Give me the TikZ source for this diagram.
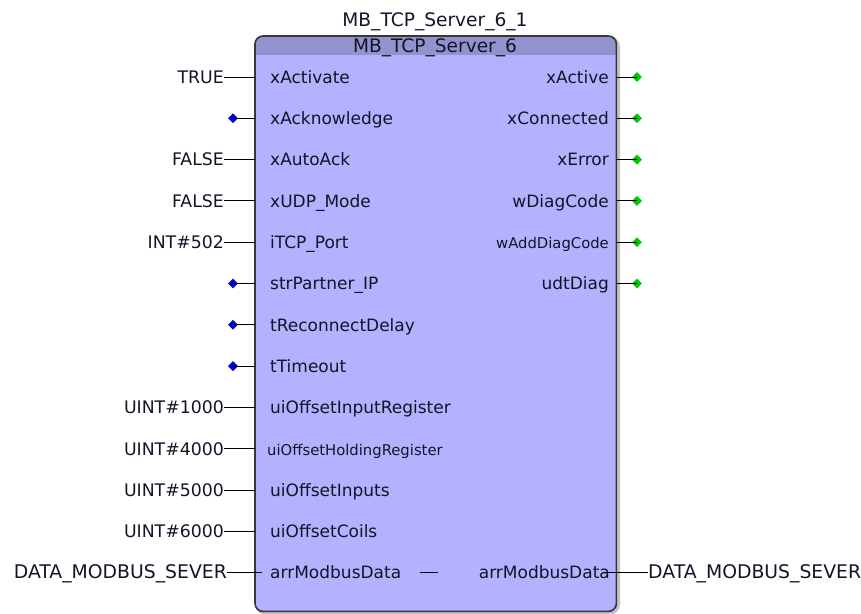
\documentclass[tikz,border=0pt]{standalone}
\usepackage{fontspec}
\setmainfont{DejaVu Sans}
\usetikzlibrary{shapes.geometric}
\definecolor{bodyc}{RGB}{178,178,255}
\definecolor{headc}{RGB}{146,146,206}
\definecolor{txtc}{RGB}{20,20,40}
\definecolor{bordc}{RGB}{55,55,55}
\definecolor{shadc}{RGB}{195,195,195}
\definecolor{dotb}{RGB}{0,0,210}
\definecolor{dotg}{RGB}{0,200,0}
\begin{document}
\begin{tikzpicture}[x=1pt,y=-1pt,
  base/.style={inner sep=0pt, text height=12.6pt, text depth=0pt, text=txtc},
  val/.style={base, anchor=east, font=\fontsize{17.3}{19}\selectfont},
  inl/.style={base, anchor=west, font=\fontsize{17}{19}\selectfont},
  outl/.style={base, anchor=east, font=\fontsize{17}{19}\selectfont},
  cond/.style={font=\fontsize{14.8}{17}\selectfont},
  bigv/.style={font=\fontsize{18.8}{21}\selectfont},
  pinl/.style={draw=black, line width=1pt},
  bdot/.style={diamond, fill=dotb, inner sep=0pt, minimum width=10pt, minimum height=10pt},
  gdot/.style={diamond, fill=dotg, inner sep=0pt, minimum width=10pt, minimum height=10pt},
  titl/.style={base, anchor=center, font=\fontsize{18.6}{21}\selectfont}]
\useasboundingbox (0,0) rectangle (861,613);
% block shadow and body
\draw[shadc, line width=4pt, rounded corners=9pt] (257,38) rectangle (618,613);
\node[fill=bodyc, rounded corners=8pt, minimum width=361pt, minimum height=575pt,
  inner sep=0pt, anchor=north west] (fb) at (255,36) {};
\begin{scope}
  \clip[rounded corners=8pt] (255,36) rectangle (616,611);
  \fill[headc] (255,36) rectangle (616,55);
\end{scope}
\draw[bordc, line width=1.6pt, rounded corners=8pt] (fb.north west) rectangle (fb.south east);
% titles
\node[titl] (inst) at (435,20) {MB\_TCP\_Server\_6\_1};
\node[titl] (type) at (435,46) {MB\_TCP\_Server\_6};
% left inputs
\node[val] (v1) at (224,77) {TRUE};
\node[inl] (i1) at (270,77) {xActivate};
\draw[pinl] (v1.east) -- (v1.east -| fb.west);
\node[bdot] (d2) at (233,118.3) {};
\node[inl] (i2) at (270,118.3) {xAcknowledge};
\draw[pinl] (d2.center) -- (d2.center -| fb.west);
\node[val] (v3) at (224,159.6) {FALSE};
\node[inl] (i3) at (270,159.6) {xAutoAck};
\draw[pinl] (v3.east) -- (v3.east -| fb.west);
\node[val] (v4) at (224,200.9) {FALSE};
\node[inl] (i4) at (270,200.9) {xUDP\_Mode};
\draw[pinl] (v4.east) -- (v4.east -| fb.west);
\node[val] (v5) at (224,242.2) {INT\#502};
\node[inl] (i5) at (270,242.2) {iTCP\_Port};
\draw[pinl] (v5.east) -- (v5.east -| fb.west);
\node[bdot] (d6) at (233,283.5) {};
\node[inl] (i6) at (270,283.5) {strPartner\_IP};
\draw[pinl] (d6.center) -- (d6.center -| fb.west);
\node[bdot] (d7) at (233,324.8) {};
\node[inl] (i7) at (270,324.8) {tReconnectDelay};
\draw[pinl] (d7.center) -- (d7.center -| fb.west);
\node[bdot] (d8) at (233,366.1) {};
\node[inl] (i8) at (270,366.1) {tTimeout};
\draw[pinl] (d8.center) -- (d8.center -| fb.west);
\node[val] (v9) at (224,407.4) {UINT\#1000};
\node[inl] (i9) at (270,407.4) {uiOffsetInputRegister};
\draw[pinl] (v9.east) -- (v9.east -| fb.west);
\node[val] (v10) at (224,448.7) {UINT\#4000};
\node[inl, cond] (i10) at (267,448.7) {uiOffsetHoldingRegister};
\draw[pinl] (v10.east) -- (v10.east -| fb.west);
\node[val] (v11) at (224,490) {UINT\#5000};
\node[inl] (i11) at (270,490) {uiOffsetInputs};
\draw[pinl] (v11.east) -- (v11.east -| fb.west);
\node[val] (v12) at (224,531.3) {UINT\#6000};
\node[inl] (i12) at (270,531.3) {uiOffsetCoils};
\draw[pinl] (v12.east) -- (v12.east -| fb.west);
\node[val, bigv] (v13) at (227,572.6) {DATA\_MODBUS\_SEVER};
\node[inl] (i13) at (270,572.6) {arrModbusData};
\coordinate (c13) at (262,572.6);
\draw[pinl] (v13.east) -- (c13);
% right outputs
\node[outl] (o1) at (609,77) {xActive};
\node[gdot] (g1) at (637,77) {};
\draw[pinl] (g1.center -| fb.east) -- (g1.center);
\node[outl] (o2) at (609,118.3) {xConnected};
\node[gdot] (g2) at (637,118.3) {};
\draw[pinl] (g2.center -| fb.east) -- (g2.center);
\node[outl] (o3) at (609,159.6) {xError};
\node[gdot] (g3) at (637,159.6) {};
\draw[pinl] (g3.center -| fb.east) -- (g3.center);
\node[outl] (o4) at (609,200.9) {wDiagCode};
\node[gdot] (g4) at (637,200.9) {};
\draw[pinl] (g4.center -| fb.east) -- (g4.center);
\node[outl, cond] (o5) at (609,242.2) {wAddDiagCode};
\node[gdot] (g5) at (637,242.2) {};
\draw[pinl] (g5.center -| fb.east) -- (g5.center);
\node[outl] (o6) at (609,283.5) {udtDiag};
\node[gdot] (g6) at (637,283.5) {};
\draw[pinl] (g6.center -| fb.east) -- (g6.center);
% in-out pin
\node[outl] (o13) at (610,572.6) {arrModbusData};
\node[val, bigv, anchor=west] (w13) at (648,572.6) {DATA\_MODBUS\_SEVER};
\coordinate (r13) at (603,572.6);
\draw[pinl] (r13) -- (w13.west);
\coordinate (m1) at (420,572.6);
\coordinate (m2) at (438,572.6);
\draw[pinl] (m1) -- (m2);
\end{tikzpicture}
\end{document}
